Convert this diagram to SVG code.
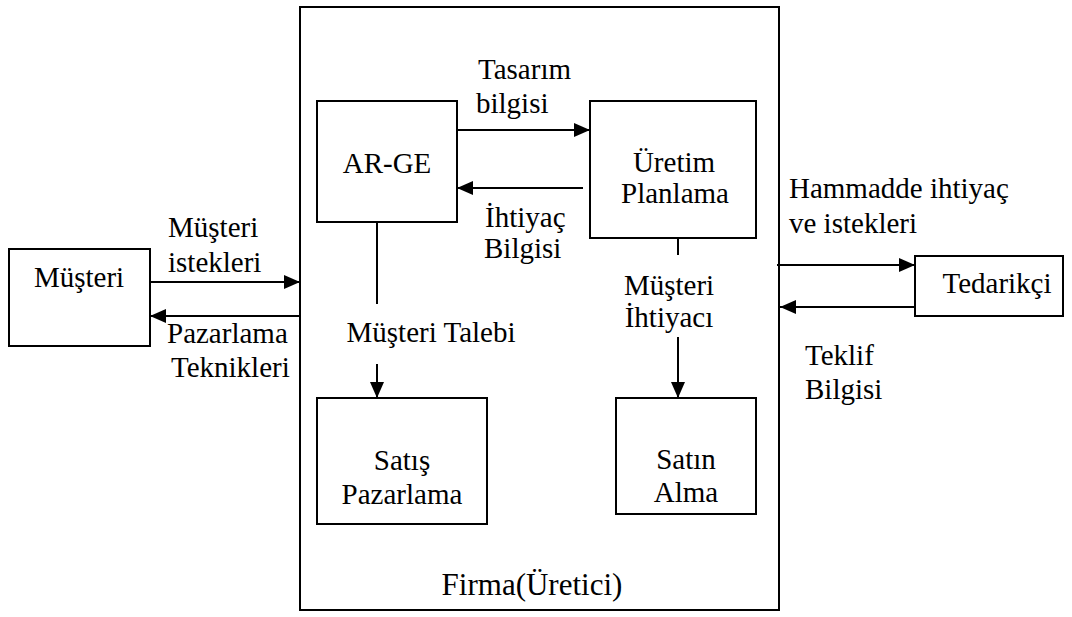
<svg xmlns="http://www.w3.org/2000/svg" width="1072" height="617" viewBox="0 0 1072 617">
<style>
.box{fill:#fff;stroke:#000;stroke-width:2}
.ln{fill:none;stroke:#000;stroke-width:2}
.t{font-family:"Liberation Serif","Times New Roman",serif;font-size:29px;fill:#000}
.c{text-anchor:middle}
</style>
<defs>
<marker id="ah" markerUnits="userSpaceOnUse" markerWidth="16" markerHeight="14" refX="16" refY="7" orient="auto">
<path d="M0,0 L16,7 L0,14 z" fill="#000"/>
</marker>
</defs>
<rect width="1072" height="617" fill="#fff"/>
<g id="firma">
<rect class="box" x="300" y="7" width="479" height="603"/>
<text class="t c" x="532" y="595" style="font-size:31px">Firma(Üretici)</text>
</g>
<g id="musteri">
<rect class="box" x="9" y="249" width="141" height="97"/>
<text class="t c" x="79" y="287">Müşteri</text>
</g>
<g id="tedarikci">
<rect class="box" x="915" y="256" width="148" height="60"/>
<text class="t c" x="997" y="293">Tedarikçi</text>
</g>
<g id="arge">
<rect class="box" x="317" y="101" width="140" height="121"/>
<text class="t c" x="387" y="173">AR-GE</text>
</g>
<g id="uretim">
<rect class="box" x="590" y="101" width="166" height="137"/>
<text class="t c" x="674" y="172">Üretim</text>
<text class="t c" x="675" y="203">Planlama</text>
</g>
<g id="satis">
<rect class="box" x="317" y="398" width="170" height="126"/>
<text class="t c" x="402" y="470">Satış</text>
<text class="t c" x="402" y="504">Pazarlama</text>
</g>
<g id="satinalma">
<rect class="box" x="616" y="398" width="140" height="116"/>
<text class="t c" x="686" y="469">Satın</text>
<text class="t c" x="686" y="502">Alma</text>
</g>
<g id="connectors">
<line class="ln" x1="150" y1="282" x2="300" y2="282" marker-end="url(#ah)"/>
<line class="ln" x1="300" y1="316" x2="150" y2="316" marker-end="url(#ah)"/>
<line class="ln" x1="457" y1="130" x2="590" y2="130" marker-end="url(#ah)"/>
<line class="ln" x1="583" y1="188" x2="457" y2="188" marker-end="url(#ah)"/>
<line class="ln" x1="377" y1="222" x2="377" y2="304"/>
<line class="ln" x1="377" y1="364" x2="377" y2="398" marker-end="url(#ah)"/>
<line class="ln" x1="678" y1="238" x2="678" y2="255"/>
<line class="ln" x1="678" y1="337" x2="678" y2="398" marker-end="url(#ah)"/>
<line class="ln" x1="777" y1="265" x2="915" y2="265" marker-end="url(#ah)"/>
<line class="ln" x1="915" y1="307" x2="780" y2="307" marker-end="url(#ah)"/>
</g>
<g id="labels">
<text class="t" x="168" y="237">Müşteri</text>
<text class="t" x="168" y="272">istekleri</text>
<text class="t" x="167" y="343">Pazarlama</text>
<text class="t" x="171" y="377">Teknikleri</text>
<text class="t" x="478" y="79">Tasarım</text>
<text class="t" x="476" y="113">bilgisi</text>
<text class="t" x="485" y="227">İhtiyaç</text>
<text class="t" x="484" y="258">Bilgisi</text>
<text class="t c" x="431" y="342">Müşteri Talebi</text>
<text class="t c" x="669" y="295">Müşteri</text>
<text class="t c" x="669" y="327">İhtiyacı</text>
<text class="t" x="789" y="198">Hammadde ihtiyaç</text>
<text class="t" x="789" y="233">ve istekleri</text>
<text class="t" x="805" y="365">Teklif</text>
<text class="t" x="805" y="399">Bilgisi</text>
</g>
</svg>
